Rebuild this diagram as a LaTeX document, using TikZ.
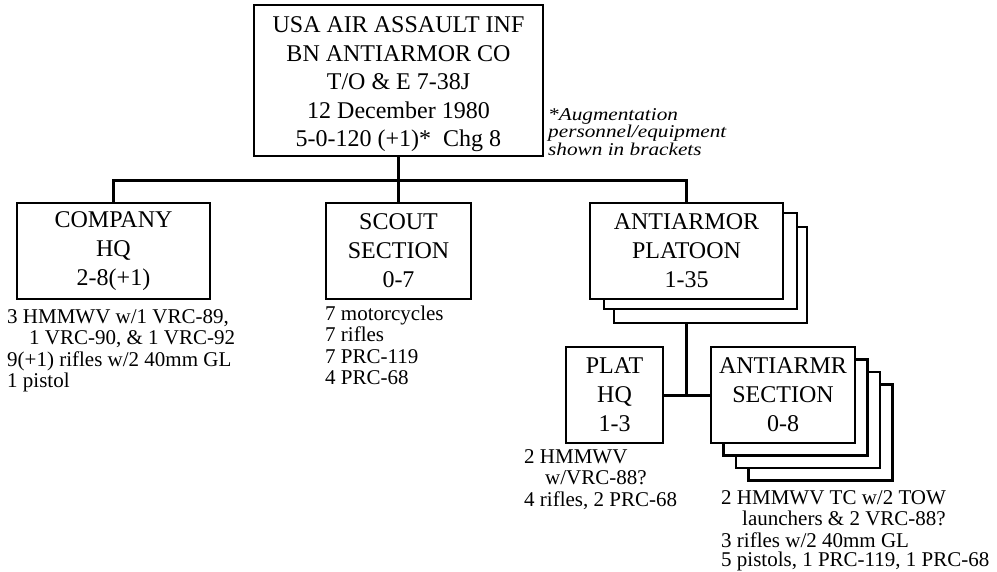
\documentclass[tikz,border=0pt]{standalone}
\usepackage{fontspec}
\setmainfont{Liberation Serif}
\newfontfamily\notefont[FakeStretch=1.18]{Liberation Serif}
\begin{document}
\begin{tikzpicture}[x=1pt,y=-1pt,
  box/.style={draw, line width=2.7pt, fill=white, inner sep=0pt, align=center,
    font=\fontsize{24}{29}\selectfont},
  shadowbox/.style={draw, line width=2.5pt, fill=white, inner sep=0pt},
  conn/.style={draw, line width=3pt},
  lst/.style={anchor=base west, inner sep=0pt, font=\fontsize{21}{21.5}\selectfont},
  note/.style={anchor=base west, inner sep=0pt, font=\fontsize{18}{18}\notefont\itshape}]
\useasboundingbox (0,0) rectangle (997,571);

% top box
\node[box, minimum width=289pt, minimum height=151pt, font=\fontsize{24}{28.5}\selectfont] (top) at (398.5,80.5)
  {\rule{0pt}{24pt}USA AIR ASSAULT INF\\BN ANTIARMOR CO\\T/O \& E 7-38J\\12 December 1980\\5-0-120 (+1)*\ \ Chg 8};

% note
\node[note] (n1) at (548,120) {*Augmentation};
\node[note] (n2) at (548,137.5) {personnel/equipment};
\node[note] (n3) at (548,155) {shown in brackets};

% second level
\node[box, minimum width=193pt, minimum height=96pt] (co) at (113.5,251) {COMPANY\\HQ\\2-8(+1)};
\node[box, minimum width=145pt, minimum height=96pt] (sc) at (398.5,251) {SCOUT\\SECTION\\0-7};
\node[shadowbox, minimum width=193pt, minimum height=96pt] (pls2) at (710.5,275) {};
\node[shadowbox, minimum width=193pt, minimum height=96pt] (pls1) at (700.5,261) {};
\node[box, minimum width=193pt, minimum height=96pt] (pl) at (686.5,251) {ANTIARMOR\\PLATOON\\1-35};

% third level
\node[box, minimum width=97pt, minimum height=96pt] (hq) at (614.5,395) {PLAT\\HQ\\1-3};
\node[shadowbox, minimum width=144pt, minimum height=96pt] (as3) at (820.5,432.5) {};
\node[shadowbox, minimum width=144pt, minimum height=96pt] (as2) at (808,420) {};
\node[shadowbox, minimum width=144pt, minimum height=96pt] (as1) at (795.5,407.5) {};
\node[box, minimum width=144pt, minimum height=96pt] (as) at (783,395) {ANTIARMR\\SECTION\\0-8};

% connectors
\coordinate (j) at (398.5,180);
\draw[conn] (top.south) -- (j);
\draw[conn] (co.north) -- (co.north |- j) -- (pl.north |- j) -- (pl.north);
\draw[conn] (j) -- (sc.north);
\draw[conn] (pl.south |- pls2.south) -- (pl.south |- as.west);
\draw[conn] (hq.east) -- (as.west);

% equipment lists
\node[lst] (c1) at (7,323) {3 HMMWV w/1 VRC-89,};
\node[lst] (c2) at (29,344.5) {1 VRC-90, \& 1 VRC-92};
\node[lst] (c3) at (7,366) {9(+1) rifles w/2 40mm GL};
\node[lst] (c4) at (7,387.5) {1 pistol};

\node[lst] (s1) at (325,320) {7 motorcycles};
\node[lst] (s2) at (325,341.5) {7 rifles};
\node[lst] (s3) at (325,363) {7 PRC-119};
\node[lst] (s4) at (325,384.5) {4 PRC-68};

\node[lst] (h1) at (524,463) {2 HMMWV};
\node[lst] (h2) at (545,484.5) {w/VRC-88?};
\node[lst] (h3) at (524,506) {4 rifles, 2 PRC-68};

\node[lst] (a1) at (721,504) {2 HMMWV TC w/2 TOW};
\node[lst] (a2) at (742,525.5) {launchers \& 2 VRC-88?};
\node[lst] (a3) at (721,547) {3 rifles w/2 40mm GL};
\node[lst] (a4) at (721,566.5) {5 pistols, 1 PRC-119, 1 PRC-68};
\end{tikzpicture}
\end{document}
